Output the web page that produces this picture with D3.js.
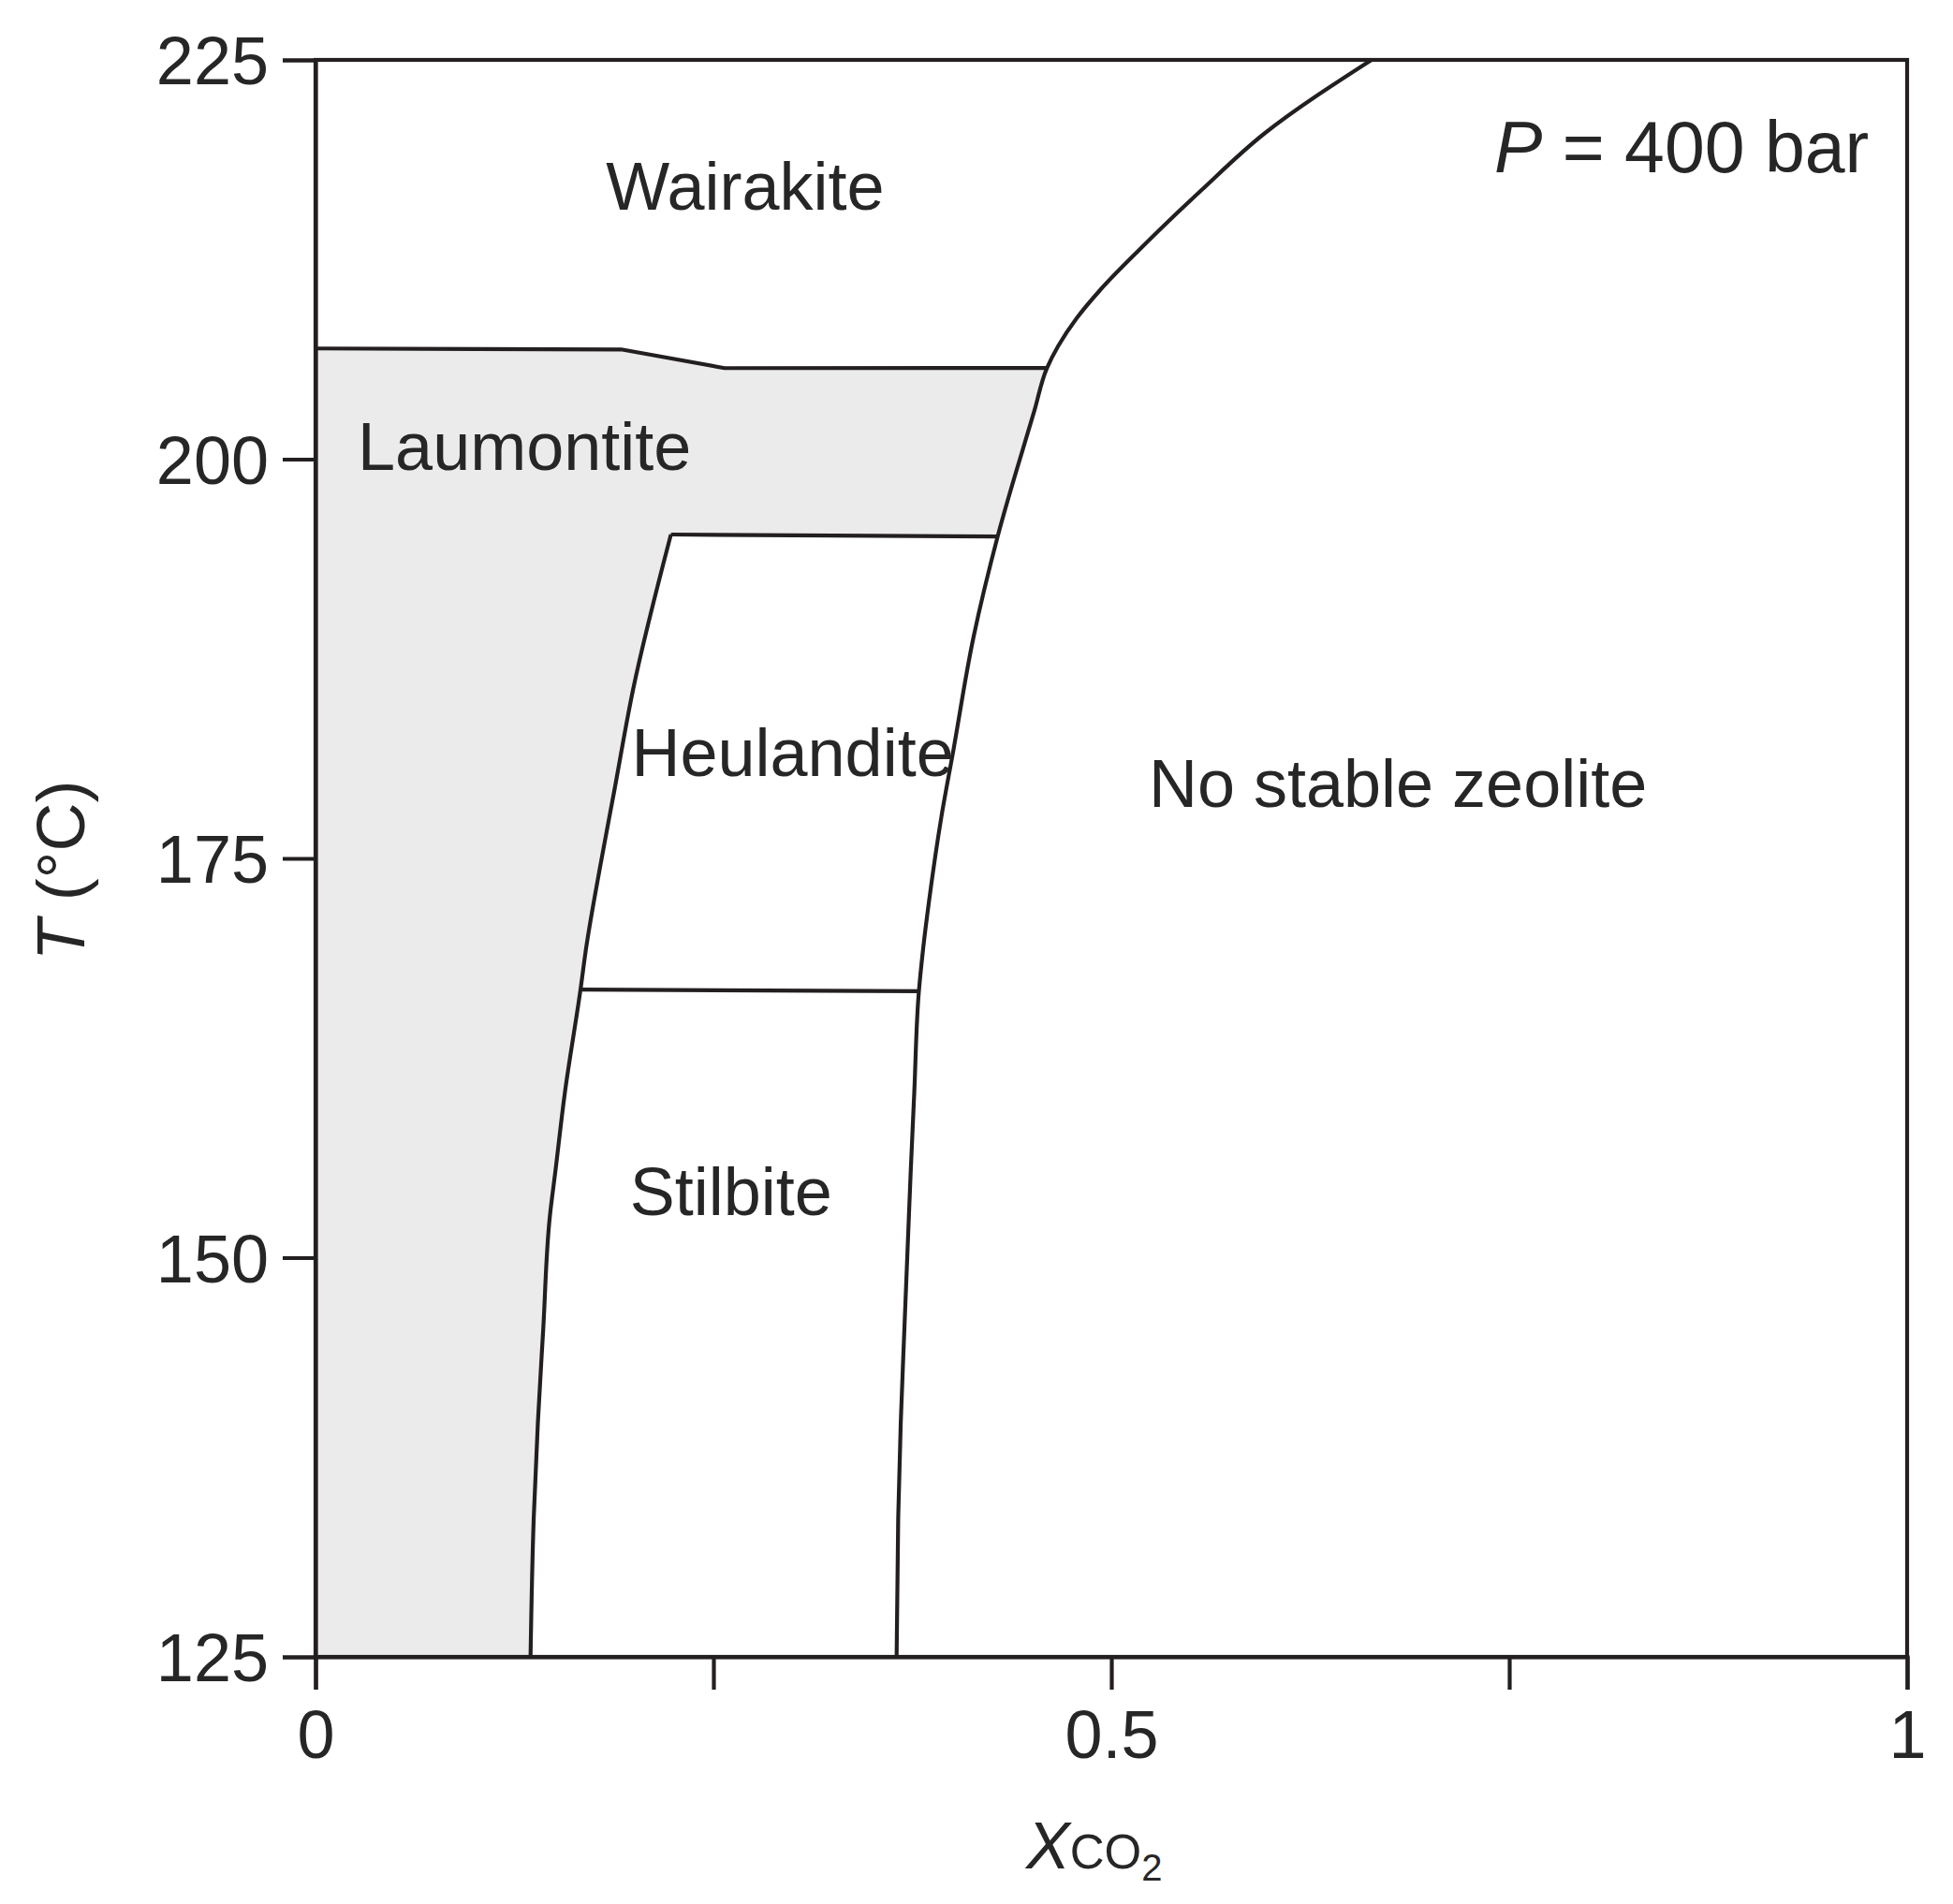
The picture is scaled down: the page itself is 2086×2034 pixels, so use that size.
<!DOCTYPE html>
<html><head><meta charset="utf-8">
<script src="https://cdn.jsdelivr.net/npm/d3@7"></script>
<style>
body{margin:0;background:#fff}
text{font-family:"Liberation Sans",Arial,Helvetica,sans-serif;fill:#262626}
</style>
</head><body>
<script>
// ---- data (x = X_CO2, T in °C) ----
const xTicks=[0,0.25,0.5,0.75,1];
const xTickLabels=["0","","0.5","","1"];
const yTicks=[125,150,175,200,225];
const yTickLabels=["125","150","175","200","225"];

const laumontiteTop=[[0,206.93],[0.192,206.87],[0.257,205.70],[0.4596,205.71]];
const wairakiteNoZeolite=[[0.6635,225],[0.5959,220.37],[0.5567,216.85],[0.5175,213.10],[0.4929,210.58],[0.4782,208.82],[0.4665,207.06],[0.4596,205.71]];
const laumontiteNoZeolite=[[0.4596,205.71],[0.4518,203.08],[0.4286,195.16]];
const heulanditeNoZeolite=[[0.4286,195.16],[0.4135,188.89],[0.4006,181.68],[0.3932,177.58],[0.3856,172.42],[0.3818,169.37],[0.3791,166.68]];
const stilbiteNoZeolite=[[0.3791,166.68],[0.3762,160.35],[0.3740,155.48],[0.3728,152.55],[0.3716,149.56],[0.3700,145.57],[0.3677,139.65],[0.3661,133.68],[0.3651,125]];
const heulanditeTop=[[0.2233,195.28],[0.4286,195.16]];
const stilbiteTop=[[0.1665,166.79],[0.3791,166.68]];
const laumontiteHeulandite=[[0.2233,195.28],[0.1996,185.61],[0.1877,179.22],[0.1788,174.47],[0.1700,169.37],[0.1665,166.79]];
const laumontiteStilbite=[[0.1665,166.79],[0.1567,160.35],[0.1508,155.48],[0.1472,152.55],[0.1431,145.57],[0.1397,139.65],[0.1371,133.68],[0.1351,125]];

const regionNames=["Wairakite","Laumontite","Heulandite","Stilbite","No stable zeolite"];
const regionAnchorX=[0.1825,0.0265,0.1985,0.1975,0.5235];
const regionAnchorT=[215.6,199.34,180.13,152.67,178.2];

(function(){
// ---- layout ----
const W=2086,H=2034;
const pL=337,pR=2037,pT=64,pB=1770;
const x=d3.scaleLinear().domain([0,1]).range([pL,pR]);
const y=d3.scaleLinear().domain([125,225]).range([pB,pT]);

const svg=d3.select("body").append("svg").attr("width",W).attr("height",H);
const ink="#231f20";

const line=(curve)=>d3.line().x(d=>x(d[0])).y(d=>y(d[1])).curve(curve);
const smooth=d3.curveMonotoneY;

// Laumontite field fill
const seg=(pts,c)=>line(c)(pts);
const fillPath=[
  seg(laumontiteTop,d3.curveLinear),
  seg(laumontiteNoZeolite,smooth).replace(/^M/,"L"),
  seg(heulanditeTop.slice().reverse(),d3.curveLinear).replace(/^M/,"L"),
  seg(laumontiteHeulandite,smooth).replace(/^M/,"L"),
  seg(laumontiteStilbite,smooth).replace(/^M/,"L"),
  `L${x(0)},${y(125)}Z`
].join("");
svg.append("path").attr("d",fillPath).attr("fill","#ebebeb").attr("stroke","none");

// boundaries
const rightBoundary=wairakiteNoZeolite.concat(laumontiteNoZeolite.slice(1),heulanditeNoZeolite.slice(1),stilbiteNoZeolite.slice(1));
const leftBoundary=laumontiteHeulandite.concat(laumontiteStilbite.slice(1));
const g=svg.append("g").attr("fill","none").attr("stroke",ink).attr("stroke-width",4.2).attr("stroke-linejoin","round");
g.append("path").attr("d",line(smooth)(rightBoundary));
g.append("path").attr("d",line(smooth)(leftBoundary));
g.append("path").attr("d",line(d3.curveLinear)(laumontiteTop));
g.append("path").attr("d",line(d3.curveLinear)(heulanditeTop));
g.append("path").attr("d",line(d3.curveLinear)(stilbiteTop));

// frame
svg.append("rect").attr("x",pL).attr("y",pT).attr("width",pR-pL).attr("height",pB-pT)
  .attr("fill","none").attr("stroke",ink).attr("stroke-width",4.2);

// axes
const xAxis=d3.axisBottom(x).tickValues(xTicks).tickSize(35).tickPadding(22)
  .tickFormat((d,i)=>xTickLabels[i]);
const yAxis=d3.axisLeft(y).tickValues(yTicks).tickSize(35).tickPadding(15)
  .tickFormat((d,i)=>yTickLabels[i]);
const gx=svg.append("g").attr("transform",`translate(0,${pB})`).call(xAxis);
const gy=svg.append("g").attr("transform",`translate(${pL},0)`).call(yAxis);
[gx,gy].forEach(a=>{
  a.select(".domain").attr("stroke",ink).attr("stroke-width",4.2);
  a.selectAll(".tick line").attr("stroke",ink).attr("stroke-width",4.2);
  a.selectAll(".tick text").attr("fill","#262626").style("font-size","72px")
   .style("font-family",'"Liberation Sans",Arial,sans-serif');
});
gx.selectAll(".tick text").attr("dy","0.71em");
gy.selectAll(".tick text").attr("dy","0.36em");

// region labels
svg.append("g").selectAll("text").data(regionNames).join("text")
  .attr("x",(d,i)=>x(regionAnchorX[i])).attr("y",(d,i)=>y(regionAnchorT[i]))
  .style("font-size","72px").text(d=>d);

// pressure note
const pt=svg.append("text").attr("x",1596).attr("y",184).style("font-size","77px");
pt.append("tspan").style("font-style","italic").text("P");
pt.append("tspan").text(" = 400 bar");

// y-axis title
const yt=svg.append("text").attr("transform","translate(90,930) rotate(-90)")
  .attr("text-anchor","middle").style("font-size","72px");
yt.append("tspan").style("font-style","italic").text("T");
yt.append("tspan").text(" (°C)");

// x-axis title
const xt=svg.append("text").attr("x",1096).attr("y",1996);
xt.append("tspan").style("font-style","italic").style("font-size","70px").text("X");
xt.append("tspan").style("font-size","51px").text("CO");
xt.append("tspan").style("font-size","40px").attr("dy",13).text("2");
})();
</script>
</body></html>
